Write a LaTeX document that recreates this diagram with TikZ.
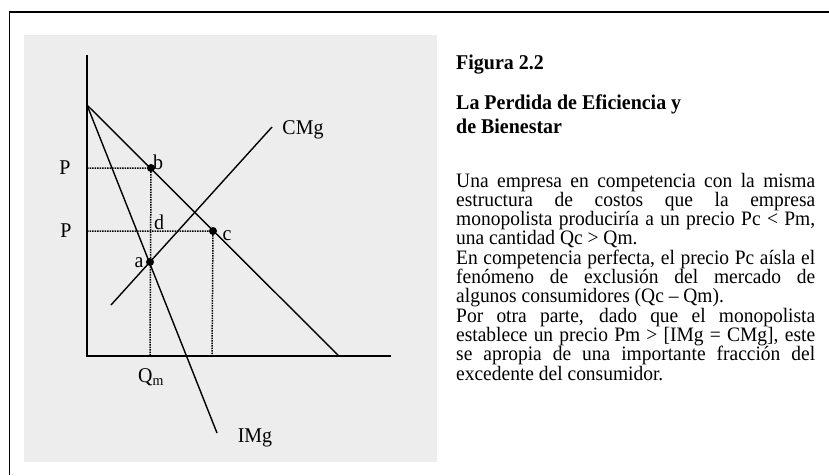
\documentclass[tikz,border=0pt]{standalone}
\usepackage{fontspec}
\setmainfont{Liberation Serif}[FakeStretch=0.95]
\begin{document}
\begin{tikzpicture}[x=1pt,y=-1pt,
  lbl/.style={inner sep=0pt, font=\fontsize{21}{21}\selectfont},
  head/.style={inner sep=0pt, anchor=base west, font=\fontsize{21}{21}\selectfont\bfseries},
  curve/.style={line width=1.4pt, black},
  axis/.style={line width=2.4pt, black},
  guide/.style={line width=1.5pt, densely dotted, black},
  pt/.style={circle, fill=black, inner sep=0pt, minimum size=8pt},
  body/.style={inner sep=0pt, anchor=base west, text width=359pt, align=justify,
    font=\fontsize{20.5}{19.3}\selectfont}]
\definecolor{panel}{RGB}{237,237,237}
\useasboundingbox (0,0) rectangle (829,475);
% outer frame (cut by the page at right and bottom)
\draw[line width=1.5pt] (829,12) -- (9.5,12) -- (9.5,475);
% grey panel
\fill[panel] (24,35) rectangle (437,462);
% coordinates
\coordinate (O) at (87,356);
\coordinate (ytop) at (87,55);
\coordinate (xend) at (391,356);
\coordinate (D0) at (87,105);
\coordinate (D1) at (339,356);
\coordinate (M1) at (217,433);
\coordinate (S0) at (111,305);
\coordinate (S1) at (272,127);
\coordinate (Pb) at (87,168);
\coordinate (Pc) at (87,231);
\coordinate (Qb) at (150,356);
\coordinate (Qc) at (212,356);
% dotted guides
\draw[guide] (Pb) -- (151,168) -- (Qb);
\draw[guide] (Pc) -- (213,231) -- (Qc);
% axes
\draw[axis] (ytop) -- (O) -- (xend);
% curves
\draw[curve] (D0) -- (D1);
\draw[curve] (D0) -- (M1);
\draw[curve] (S0) -- (S1);
% points
\node[pt] (b) at (151,168) {};
\node[pt] (c) at (213,231) {};
\node[pt] (a) at (150,262) {};
% labels
\node[lbl] (lP1) at (65,168) {P};
\node[lbl] (lP2) at (66,231) {P};
\node[lbl] (lb) at (158,162) {b};
\node[lbl] (ld) at (159,222) {d};
\node[lbl] (lc) at (227,236) {c};
\node[lbl] (la) at (139,263) {a};
\node[lbl] (lQ) at (151,377) {Q\textsubscript{m}};
\node[lbl] (lCMg) at (303,130) {CMg};
\node[lbl] (lIMg) at (255,438) {IMg};
% text
\node[head] (fig) at (456,69) {Figura 2.2};
\node[head] (tit1) at (456,109) {La Perdida de Eficiencia y};
\node[head] (tit2) at (456,133) {de Bienestar};
\node[body] (txt) at (456,187) {%
Una empresa en competencia con la misma\linebreak
estructura de costos que la empresa\linebreak
monopolista produciría a un precio Pc < Pm,\linebreak
una cantidad Qc > Qm.\par
En competencia perfecta, el precio Pc aísla el\linebreak
fenómeno de exclusión del mercado de\linebreak
algunos consumidores (Qc – Qm).\par
Por otra parte, dado que el monopolista\linebreak
establece un precio Pm > [IMg = CMg], este\linebreak
se apropia de una importante fracción del\linebreak
excedente del consumidor.\par};
\end{tikzpicture}
\end{document}
